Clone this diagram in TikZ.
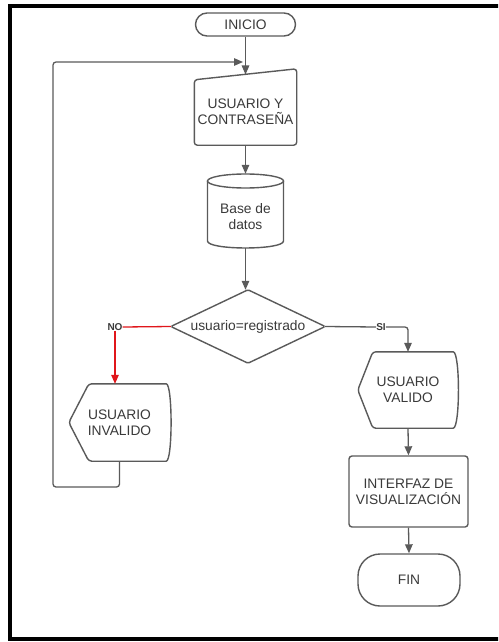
\documentclass[tikz,border=0pt]{standalone}
\usepackage{fontspec}
\setmainfont{Liberation Sans}
\usetikzlibrary{arrows.meta}
\definecolor{linegray}{HTML}{5A5A5A}
\definecolor{txtgray}{HTML}{3A3A3A}
\definecolor{noRed}{HTML}{E0161B}
\begin{document}
\begin{tikzpicture}[x=1pt,y=-1pt,
  outline/.style={draw=linegray, line width=1.4pt, rounded corners=3pt},
  lbl/.style={text=txtgray, font=\fontsize{13.8}{16}\selectfont, align=center, inner sep=0pt},
  branch/.style={text=txtgray, font=\bfseries\fontsize{10}{12}\selectfont, inner sep=0pt},
  flow/.style={draw=linegray, line width=1.3pt, -{Triangle[length=9pt,width=7.5pt]}},
  plain/.style={draw=linegray, line width=1.3pt},
  redflow/.style={draw=noRed, line width=1.3pt, -{Triangle[length=9pt,width=7.5pt]}}]
\useasboundingbox (0,0) rectangle (498,642);
\clip (0,0) rectangle (498,642);
\fill[white] (0,0) rectangle (498,642);

% outer frame (continues past the right edge)
\draw[black, line width=4pt] (520,6.5) -- (10,6.5) -- (10,639) -- (520,639);

% start terminator
\node[lbl, draw=linegray, line width=1.4pt, rounded corners=11.5pt,
      minimum width=100pt, minimum height=23pt] (inicio) at (245.5,24.5) {INICIO};

% manual input: user and password (top edge slopes up to the right)
\node[lbl, minimum width=102pt, minimum height=76pt] (entrada) at (245.5,107) {};
\draw[outline] (entrada.south west) -- ([yshift=-11pt]entrada.north west)
  -- (entrada.north east) -- (entrada.south east) -- cycle;
\node[lbl] (entradatxt) at (245.5,112) {USUARIO Y\\CONTRASEÑA};
\coordinate (entradatop) at (245.5,74.5);

% database cylinder
\node[lbl, minimum width=76pt, minimum height=74pt] (db) at (245.5,211) {};
\draw[draw=linegray, line width=1.4pt] (245.5,181) ellipse [x radius=38pt, y radius=7pt];
\draw[draw=linegray, line width=1.4pt] (207.5,181) -- (207.5,241)
  .. controls (207.5,250.3) and (283.5,250.3) .. (283.5,241) -- (283.5,181);
\node[lbl] (dbtxt) at (245.5,217) {Base de\\datos};

% decision
\node[lbl, minimum width=154pt, minimum height=73pt] (dec) at (248,326.5) {usuario=registrado};
\draw[outline, rounded corners=1.5pt] (dec.north) -- (dec.east) -- (dec.south) -- (dec.west) -- cycle;

% branch labels
\node[branch] (no) at (115,327) {NO};
\node[branch] (si) at (381,327) {SI};

% invalid user display
\node[lbl, minimum width=101pt, minimum height=77pt] (inval) at (119.5,422.5) {USUARIO\\INVALIDO};
\draw[outline] (inval.west) -- ([xshift=20pt]inval.north west)
  -- ([xshift=-7pt]inval.north east)
  .. controls ([xshift=2.5pt]inval.north east) and ([xshift=2.5pt]inval.south east) .. ([xshift=-7pt]inval.south east)
  -- ([xshift=20pt]inval.south west) -- cycle;

% valid user display
\node[lbl, minimum width=100pt, minimum height=76pt] (valido) at (408,390) {USUARIO\\VALIDO};
\draw[outline] (valido.west) -- ([xshift=15pt]valido.north west)
  -- ([xshift=-8pt]valido.north east)
  .. controls ([xshift=2pt]valido.north east) and ([xshift=2pt]valido.south east) .. ([xshift=-8pt]valido.south east)
  -- ([xshift=15pt]valido.south west) -- cycle;

% interface process
\node[lbl, draw=linegray, line width=1.4pt, rounded corners=3pt,
      minimum width=119pt, minimum height=71pt] (interfaz) at (408.5,491.5) {INTERFAZ DE\\VISUALIZACIÓN};

% end terminator
\node[lbl, draw=linegray, line width=1.4pt, rounded corners=22pt,
      minimum width=102pt, minimum height=52pt] (fin) at (409,580) {FIN};

% loop-back coordinates
\coordinate (loopbl) at (53,487);
\coordinate (looptl) at (53,62);
\coordinate (loopjoin) at (243,62);
\coordinate (sicorner) at (408,327);

% connectors
\draw[flow] (inicio.south) -- (entradatop);
\draw[flow] (entrada.south) -- (db.north);
\draw[flow] (db.south) -- (db.south |- dec.north);
\draw[noRed, line width=1.3pt] (dec.west) -- (no.east);
\draw[redflow] (no.south) -- (no.south |- inval.north);
\draw[plain] (dec.east) -- (si.west);
\draw[flow, rounded corners=3pt] (si.east) -- (sicorner) -- (valido.north);
\draw[flow] (valido.south) -- (interfaz.north);
\draw[flow] (interfaz.south) -- (fin.north);
\draw[flow, rounded corners=3pt] (inval.south) |- (loopbl) -- (looptl) -- (loopjoin);
\end{tikzpicture}
\end{document}
